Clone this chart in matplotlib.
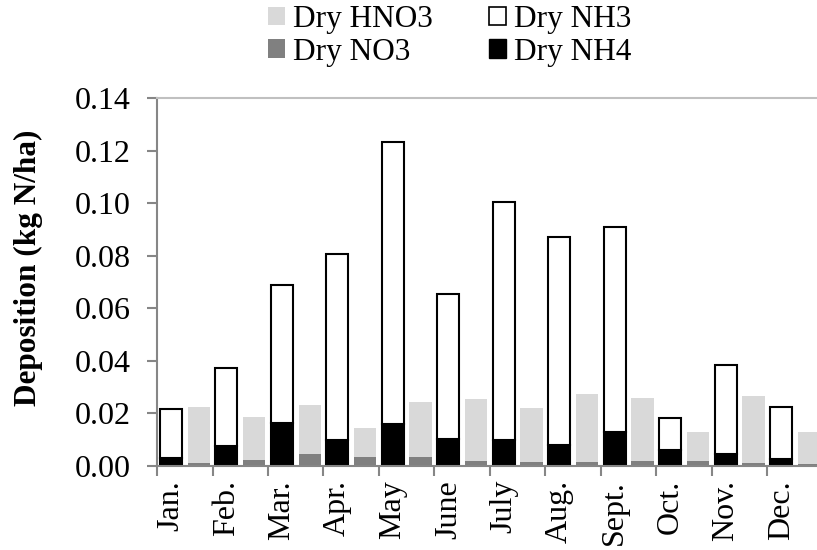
import numpy as np
import matplotlib.pyplot as plt
from matplotlib.patches import Patch

plt.rcParams['font.family'] = ['Liberation Serif', 'DejaVu Serif']

months = ['Jan.', 'Feb.', 'Mar.', 'Apr.', 'May', 'June', 'July', 'Aug.',
          'Sept.', 'Oct.', 'Nov.', 'Dec.']

# stacked totals
nh_total = [0.0218, 0.0374, 0.0690, 0.0806, 0.1234, 0.0656, 0.1007, 0.0873,
            0.0911, 0.0184, 0.0386, 0.0226]
nh4 = [0.0032, 0.0076, 0.0165, 0.0100, 0.0160, 0.0103, 0.0098, 0.0080,
       0.0129, 0.0060, 0.0047, 0.0027]
hno3_total = [0.0223, 0.0187, 0.0234, 0.0145, 0.0243, 0.0255, 0.0221, 0.0274,
              0.0258, 0.0129, 0.0267, 0.0128]
no3 = [0.0010, 0.0024, 0.0047, 0.0033, 0.0036, 0.0020, 0.0014, 0.0016,
       0.0020, 0.0020, 0.0011, 0.0008]

nh4 = np.array(nh4)
nh3 = np.array(nh_total) - nh4
no3 = np.array(no3)
hno3 = np.array(hno3_total) - no3

fig = plt.figure(figsize=(8.17, 5.5), dpi=100)
ax = fig.add_axes([0.1922, 0.1527, 0.815, 0.6686])

x = np.arange(12)
w = 0.4
axis_col = '#868686'

ax.bar(x + 0.25, nh4, w, color='black', edgecolor='black', linewidth=1.5, zorder=2)
ax.bar(x + 0.25, nh3, w, bottom=nh4, color='white', edgecolor='black', linewidth=1.5, zorder=2)
ax.bar(x + 0.75, no3, w, color='#808080', linewidth=0, zorder=2)
ax.bar(x + 0.75, hno3, w, bottom=no3, color='#d9d9d9', linewidth=0, zorder=2)

ax.set_xlim(0, 12)
ax.set_ylim(0, 0.14)
yt = np.arange(0, 0.141, 0.02)
ax.set_yticks(yt)
ax.set_yticklabels(['%.2f' % v for v in yt], fontsize=23)

ax.set_xticks(np.arange(13))
ax.set_xticklabels([])
ax.set_xticks(x + 0.25, months, minor=True, rotation=90, fontsize=23)
ax.tick_params(axis='x', which='minor', length=0, pad=10)
ax.tick_params(axis='x', which='major', length=7, width=1.5, color=axis_col)
ax.tick_params(axis='y', length=7, width=1.5, color=axis_col, pad=12)

for s in ['left', 'bottom']:
    ax.spines[s].set_color(axis_col)
    ax.spines[s].set_linewidth(1.5)
ax.spines['top'].set_color('#c0c0c0')
ax.spines['top'].set_linewidth(1.5)
ax.spines['right'].set_visible(False)

ax.set_ylabel('Deposition (kg N/ha)', fontsize=22.5, fontweight='bold')
ax.yaxis.set_label_coords(-0.172, 0.54)

handles = [Patch(facecolor='#d9d9d9', edgecolor='none'),
           Patch(facecolor='#808080', edgecolor='none'),
           Patch(facecolor='white', edgecolor='black', linewidth=1.2),
           Patch(facecolor='black', edgecolor='black')]
labels = ['Dry HNO3', 'Dry NO3', 'Dry NH3', 'Dry NH4']
fig.legend(handles, labels, ncol=2, loc='upper left', bbox_to_anchor=(268 / 817, 1 - 5 / 550),
           frameon=False, fontsize=22.5, handlelength=0.55, handleheight=0.55,
           handletextpad=0.25, columnspacing=1.8, labelspacing=0.12, borderpad=0,
           borderaxespad=0)

fig.savefig('out.png', dpi=100)
